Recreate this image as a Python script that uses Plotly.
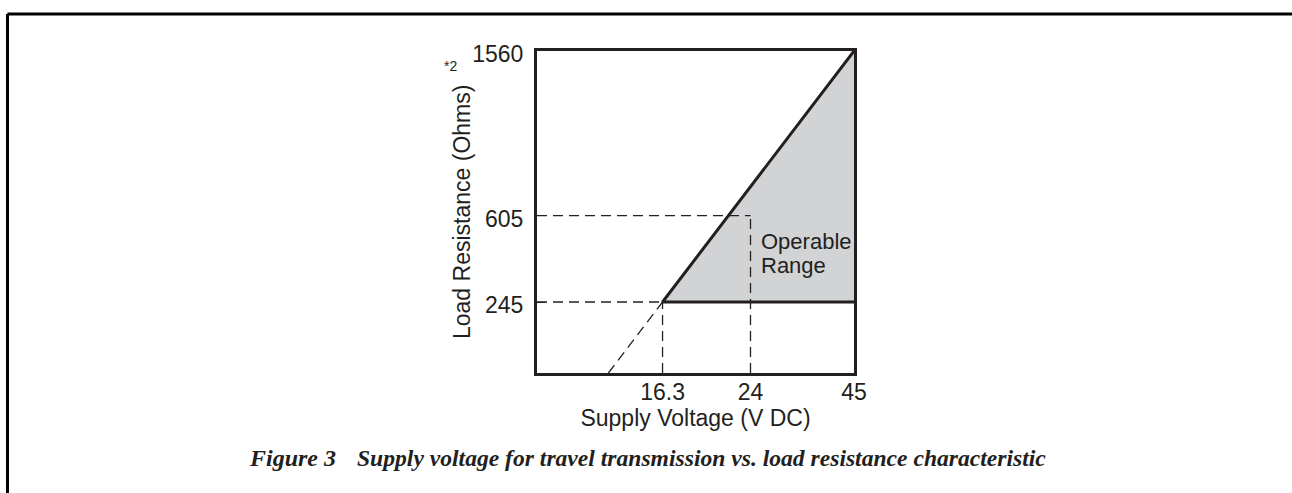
import numpy as np
import plotly.graph_objects as go

# ---- data ----
x_ticks = [16.3, 24, 45]            # Supply voltage (V DC)
x_tick_labels = ["16.3", "24", "45"]
y_ticks = [245, 605, 1560]          # Load resistance (Ohms)
y_tick_labels = ["245", "605", "1560"]
v_min, v_ref, v_max = 16.3, 24, 45
r_min, r_ref, r_max = 245, 605, 1560

# ---- schematic (non-linear) axis scales ----
X_KNOTS_POS = [0.396, 0.6735, 1.0]
Y_KNOTS_POS = [0.2205, 0.489, 1.0]


def xs(v):
    return float(np.interp(v, x_ticks, X_KNOTS_POS))


def ys(r):
    return float(np.interp(r, y_ticks, Y_KNOTS_POS))


W, H = 1292, 493
L, R, T, B = 537, 854, 51, 373


def px(x, y):
    return (x - L) / (R - L), (B - y) / (B - T)


INK = "#231f20"
GRAY = "#d2d3d5"
SANS = "Liberation Sans, Arial, sans-serif"
SERIF = "Liberation Serif, Times New Roman, serif"

fig = go.Figure()

# operable range
fig.add_trace(go.Scatter(
    x=[xs(v_min), xs(v_max), xs(v_max), xs(v_min)],
    y=[ys(r_min), ys(r_max), ys(r_min), ys(r_min)],
    fill="toself", fillcolor=GRAY, line=dict(width=0), mode="lines",
    hoverinfo="skip", showlegend=False))

# dashed guide lines
x1, y1 = xs(v_min), ys(r_min)
x2, y2 = xs(v_max), ys(r_max)
x0 = x1 - y1 * (x2 - x1) / (y2 - y1)
dash = dict(color=INK, width=1.3, dash="10px,6px")
guides = [
    ([0, xs(v_ref)], [ys(r_ref), ys(r_ref)]),
    ([0, xs(v_min)], [ys(r_min), ys(r_min)]),
    ([xs(v_ref), xs(v_ref)], [0, ys(r_ref)]),
    ([xs(v_min), xs(v_min)], [0, ys(r_min)]),
    ([x0, x1], [0, y1]),
]
for gx, gy in guides:
    fig.add_trace(go.Scatter(x=gx, y=gy, mode="lines", line=dash,
                             hoverinfo="skip", showlegend=False))

# boundary
fig.add_trace(go.Scatter(
    x=[xs(v_max), xs(v_min), xs(v_max)],
    y=[ys(r_max), ys(r_min), ys(r_min)],
    mode="lines", line=dict(color=INK, width=3),
    hoverinfo="skip", showlegend=False))

axis_common = dict(showline=True, mirror=True, linecolor=INK, linewidth=3,
                   showgrid=False, zeroline=False, ticks="inside", ticklen=8,
                   tickwidth=1.3, tickcolor=INK, range=[0, 1],
                   tickfont=dict(family=SANS, size=23, color=INK))

fig.update_xaxes(**axis_common,
                 tickvals=[xs(v) for v in x_ticks], ticktext=x_tick_labels,
                 ticklabelstandoff=-4,
                 title=dict(text="Supply Voltage (V DC)", standoff=4,
                            font=dict(family=SANS, size=23, color=INK)))
fig.update_yaxes(**axis_common,
                 tickvals=[ys(r) for r in y_ticks], ticktext=y_tick_labels,
                 ticklabelstandoff=6, ticklabelshift=3)

ann = []


def add_text(text, x, y, size, family=SANS, xanchor="center", angle=0):
    ax, ay = px(x, y)
    ann.append(dict(text=text, x=ax, y=ay, xref="paper", yref="paper",
                    xanchor=xanchor, yanchor="middle", showarrow=False,
                    textangle=angle,
                    font=dict(family=family, size=size, color=INK)))


add_text("Load Resistance (Ohms)", 462, 212, 23, angle=-90)
add_text("*2", 450, 66, 14)
add_text("Operable", 759, 241, 22, xanchor="left")
add_text("Range", 759, 265, 22, xanchor="left")
add_text("<b><i>Figure 3</i></b>", 247, 458, 24, SERIF, "left")
add_text("<b><i>Supply voltage for travel transmission vs. load resistance characteristic</i></b>",
         355, 458, 23.6, SERIF, "left")

# outer border (top + left)
bx0, by0 = px(7.5, 493)
bx1, by1 = px(7.5, 14)
bx2, _ = px(1292, 14)
shapes = [dict(type="line", xref="paper", yref="paper", x0=bx0, y0=by0,
               x1=bx1, y1=by1, line=dict(color="black", width=3)),
          dict(type="line", xref="paper", yref="paper", x0=bx1, y0=by1,
               x1=bx2, y1=by1, line=dict(color="black", width=3))]

fig.update_layout(width=W, height=H, margin=dict(l=L, r=W - R, t=T, b=H - B),
                  paper_bgcolor="white", plot_bgcolor="white",
                  annotations=ann, shapes=shapes, showlegend=False)

fig.write_html("out.html", config={"displayModeBar": False},
               post_script="document.body.style.margin='0';"
                           "document.body.style.overflow='hidden';")
